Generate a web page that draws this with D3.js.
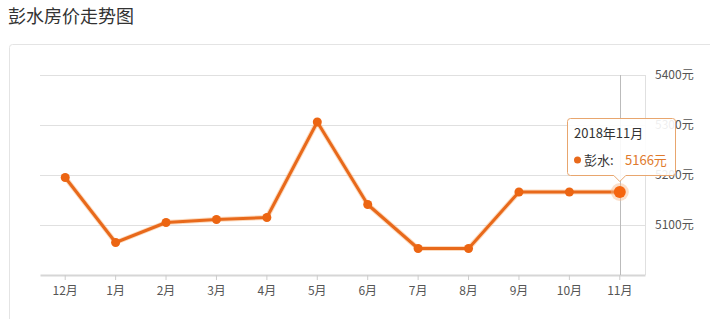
<!DOCTYPE html>
<html><head><meta charset="utf-8">
<script src="https://cdn.jsdelivr.net/npm/d3@7"></script>
<style>
body{margin:0;background:#fff;font-family:"Noto Sans CJK SC","Noto Sans",sans-serif;}
</style></head>
<body><svg id="c" width="710" height="319"></svg>
<script>
const title = "彭水房价走势图";
const categories = ["12月","1月","2月","3月","4月","5月","6月","7月","8月","9月","10月","11月"];
const values = [5195,5065,5105,5111,5115,5306,5141,5053,5053,5166,5166,5166];
const yTicks = [5100,5200,5300,5400];
const seriesName = "彭水";
const tipTitle = "2018年11月";
const tipIndex = 11;

const svg = d3.select("#c");
const F = '"Noto Sans CJK SC","Noto Sans",sans-serif';

svg.append("text").attr("x",8).attr("y",23).attr("font-size",18).attr("fill","#333")
  .attr("font-family",F).text(title);

// card
svg.append("rect").attr("x",9.5).attr("y",44.5).attr("width",720).attr("height",300)
  .attr("rx",3).attr("fill","#fff").attr("stroke","#e4e4e4");

const L=40, R=645, T=75, B=275;
const x = d3.scaleBand().domain(categories).range([L,R]);
const y = d3.scaleLinear().domain([5000,5400]).range([B,T]);

const g = svg.append("g");
// grid
g.selectAll("line.grid").data(yTicks).join("line")
  .attr("x1",L).attr("x2",R).attr("y1",d=>Math.round(y(d))+0.5).attr("y2",d=>Math.round(y(d))+0.5)
  .attr("stroke","#e0e0e0");
// right axis line
g.append("line").attr("x1",R+0.5).attr("x2",R+0.5).attr("y1",T).attr("y2",B).attr("stroke","#e0e0e0");
// y labels
g.selectAll("text.yl").data(yTicks).join("text")
  .attr("x",655).attr("y",d=>y(d)+4).attr("font-size",12).attr("fill","#555")
  .attr("font-family",F).text(d=>d+"元");

// x axis
const xa = d3.axisBottom(x).tickSize(5).tickSizeOuter(0).tickPadding(6);
const ax = g.append("g").attr("transform",`translate(0,${B})`).call(xa);
ax.select(".domain").attr("stroke","#d6d6d6").attr("stroke-width",2);
ax.selectAll(".tick line").attr("stroke","#ccc");
ax.selectAll(".tick text").attr("font-size",12).attr("fill","#555").attr("font-family",F);

const cx = d => x(d)+x.bandwidth()/2;
// axis pointer
g.append("line").attr("x1",Math.round(cx(categories[tipIndex]))+0.5).attr("x2",Math.round(cx(categories[tipIndex]))+0.5)
  .attr("y1",T).attr("y2",B).attr("stroke","#bbb");

// line
const line = d3.line().x((d,i)=>cx(categories[i])).y(d=>y(d));
g.append("path").datum(values).attr("d",line).attr("fill","none")
  .attr("stroke","#f9b77f").attr("stroke-width",5).attr("stroke-linejoin","round").attr("opacity",0.5);
g.append("path").datum(values).attr("d",line).attr("fill","none")
  .attr("stroke","#e8691b").attr("stroke-width",3).attr("stroke-linejoin","round");
g.selectAll("circle.pt").data(values).join("circle")
  .attr("cx",(d,i)=>cx(categories[i])).attr("cy",d=>y(d)).attr("r",4.5)
  .attr("fill","#ec6512");

// highlight
const hx = cx(categories[tipIndex]), hy = y(values[tipIndex]);
g.append("circle").attr("cx",hx).attr("cy",hy).attr("r",9).attr("fill","#f7b98a").attr("opacity",0.45);
g.append("circle").attr("cx",hx).attr("cy",hy).attr("r",6).attr("fill","#f5650f");

// tooltip
const tx0=567.5, tx1=675.5, ty0=118.5, ty1=175.5;
const tp = `M${tx0+3},${ty0} H${tx1-3} Q${tx1},${ty0} ${tx1},${ty0+3} V${ty1-3} Q${tx1},${ty1} ${tx1-3},${ty1} H${hx+6} L${hx},${ty1+6} L${hx-6},${ty1} H${tx0+3} Q${tx0},${ty1} ${tx0},${ty1-3} V${ty0+3} Q${tx0},${ty0} ${tx0+3},${ty0} Z`;
g.append("path").attr("d",tp).attr("fill","rgba(255,255,255,0.9)").attr("stroke","#e8a66e").attr("stroke-width",1);
g.append("text").attr("x",574).attr("y",138).attr("font-size",13).attr("fill","#333")
  .attr("font-family",F).text(tipTitle);
g.append("circle").attr("cx",577.5).attr("cy",160).attr("r",3.5).attr("fill","#e8691b");
g.append("text").attr("x",584).attr("y",164.5).attr("font-size",13).attr("fill","#333")
  .attr("font-family",F).text(seriesName+":");
g.append("text").attr("x",625).attr("y",164.5).attr("font-size",13).attr("fill","#e07a2c")
  .attr("font-family",F).text(values[tipIndex]+"元");
</script></body></html>
